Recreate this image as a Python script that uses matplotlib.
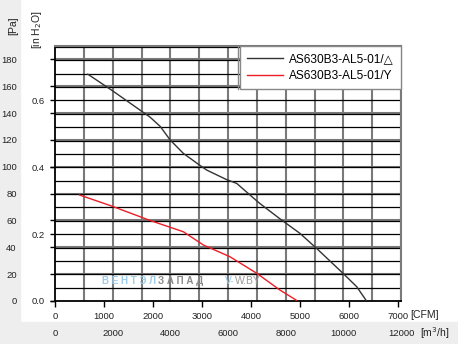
import matplotlib
matplotlib.use("Agg")
import matplotlib.pyplot as plt
from matplotlib.patches import Rectangle
from matplotlib.lines import Line2D

plt.rcParams['font.family'] = ['Liberation Sans', 'DejaVu Sans']

PA_PER_INH2O = 249.089
M3H_PER_CFM = 1.699

# характеристика вентилятора, треугольник
cfm_delta = [670, 1160, 1940, 2150, 2350, 2620, 2960, 3100, 3500, 3710,
             3980, 4180, 4600, 5000, 5340, 5880, 6160, 6350]
pa_delta = [169, 157, 137, 130, 120, 110, 101, 97.5, 90.5, 87.6,
            79, 72.7, 61, 50.4, 39.2, 20.6, 10.6, 0.5]

# характеристика вентилятора, звезда
cfm_star = [500, 1160, 1940, 2620, 3030, 3570, 4120, 4590, 4930]
pa_star = [79, 70.7, 60, 51.6, 41.7, 33, 20.6, 8.2, 0.5]

labels = ['AS630B3-AL5-01/\u25b3', 'AS630B3-AL5-01/Y']

pa_ticks = list(range(0, 181, 20))
inh2o_ticks = [0.0, 0.2, 0.4, 0.6]
cfm_ticks = list(range(0, 7001, 1000))
m3h_ticks = list(range(0, 12001, 2000))

fig = plt.figure(figsize=(4.58, 3.44), dpi=100)
fig.patches.append(Rectangle((0, 0), 20 / 458, 1, transform=fig.transFigure,
                             color='#eeeeee', zorder=-10))
fig.patches.append(Rectangle((0, 0), 1, 22 / 344, transform=fig.transFigure,
                             color='#eeeeee', zorder=-10))

ax = fig.add_axes([55 / 458, 43 / 344, 346 / 458, 255 / 344])
ax.set_xlim(0, 12000 / M3H_PER_CFM)
ax.set_ylim(0, 190)
ax.patch.set_alpha(0)

# сетка: серые линии Па и м3/ч, чёрные линии дюймов вод. ст.
for p in pa_ticks[1:]:
    ax.axhline(p, color='#7a7a7a', lw=1.5, zorder=1)
k = 1
while k * 0.04 * PA_PER_INH2O < 190:
    ax.axhline(k * 0.04 * PA_PER_INH2O, color='black', lw=0.9, zorder=2)
    k += 1
for q in range(1000, 12001, 1000):
    ax.axvline(q / M3H_PER_CFM, color='#7a7a7a', lw=1.5, zorder=1)

ax.plot(cfm_delta, pa_delta, color='#333333', lw=1.0, zorder=5, label=labels[0])
ax.plot(cfm_star, pa_star, color='#ee1c25', lw=1.0, zorder=5, label=labels[1])

for s in ['left', 'bottom']:
    ax.spines[s].set_color('black')
    ax.spines[s].set_linewidth(1.3)
for s in ['top', 'right']:
    ax.spines[s].set_color('#7a7a7a')
    ax.spines[s].set_linewidth(1.5)

fs = 6.8
ax.set_yticks(pa_ticks)
ax.tick_params(axis='y', length=3.6, width=1, pad=24, labelsize=fs,
               colors='black', labelcolor='#222222')
ax.set_xticks(cfm_ticks)
ax.tick_params(axis='x', length=4, width=1, pad=4, labelsize=fs,
               labelcolor='#222222')

sec_y = ax.secondary_yaxis('left', functions=(lambda p: p / PA_PER_INH2O,
                                              lambda h: h * PA_PER_INH2O))
sec_y.set_yticks(inh2o_ticks)
sec_y.set_yticklabels(['%.1f' % v for v in inh2o_ticks])
sec_y.tick_params(length=3.6, width=1, pad=3.6, labelsize=fs, labelcolor='#222222')
sec_y.spines['left'].set_visible(False)

sec_x = ax.secondary_xaxis('bottom', functions=(lambda c: c * M3H_PER_CFM,
                                                lambda m: m / M3H_PER_CFM))
sec_x.set_xticks(m3h_ticks)
sec_x.tick_params(length=0, pad=20, labelsize=fs, labelcolor='#222222')
sec_x.spines['bottom'].set_visible(False)

fig.text(13 / 458, 1 - 26 / 344, '[Pa]', rotation=90, ha='center', va='center',
         fontsize=7.5, color='#222222')
fig.text(37 / 458, 1 - 30 / 344, '[in H$_2$O]', rotation=90, ha='center',
         va='center', fontsize=7.5, color='#222222')
fig.text(410 / 458, 1 - 315 / 344, '[CFM]', ha='left', va='center',
         fontsize=7.5, color='#222222')
fig.text(420 / 458, 1 - 333 / 344, '[m$^3$/h]', ha='left', va='center',
         fontsize=7.5, color='#222222')

# водяной знак
wm_y = (301 - 281) / 255
ax.text(47 / 346, wm_y, '\u0412 \u0415 \u041d \u0422 \u042d \u041b', transform=ax.transAxes,
        fontsize=7, fontweight='bold', color='#9ccbec', va='center', ha='left',
        zorder=3)
ax.text(103 / 346, wm_y, '\u0417 \u0410 \u041f \u0410 \u0414', transform=ax.transAxes,
        fontsize=7, fontweight='bold', color='#8a8a8a', va='center', ha='left',
        zorder=3)
ax.text(170 / 346, wm_y, 'V-', transform=ax.transAxes, fontsize=7.5,
        color='#9ccbec', va='center', ha='left', zorder=3)
ax.text(180 / 346, wm_y, 'W.BY', transform=ax.transAxes, fontsize=7.5,
        color='#9a9a9a', va='center', ha='left', zorder=3)

leg = ax.legend(loc='upper right', fontsize=8.6, frameon=True, fancybox=False,
                borderaxespad=0, handlelength=3.0, handletextpad=0.5,
                borderpad=0.6, labelspacing=0.4, framealpha=1)
leg.get_frame().set_edgecolor('#888888')
leg.get_frame().set_linewidth(1.0)
leg.set_zorder(10)

# двойная левая граница легенды
fig.canvas.draw()
bb = leg.get_window_extent()
x0 = (bb.x0 - 2.5) / fig.bbox.width
fig.add_artist(Line2D([x0, x0], [bb.y0 / fig.bbox.height, bb.y1 / fig.bbox.height],
                      color='#888888', lw=1.0, zorder=11))

fig.savefig('out.png', dpi=100)
